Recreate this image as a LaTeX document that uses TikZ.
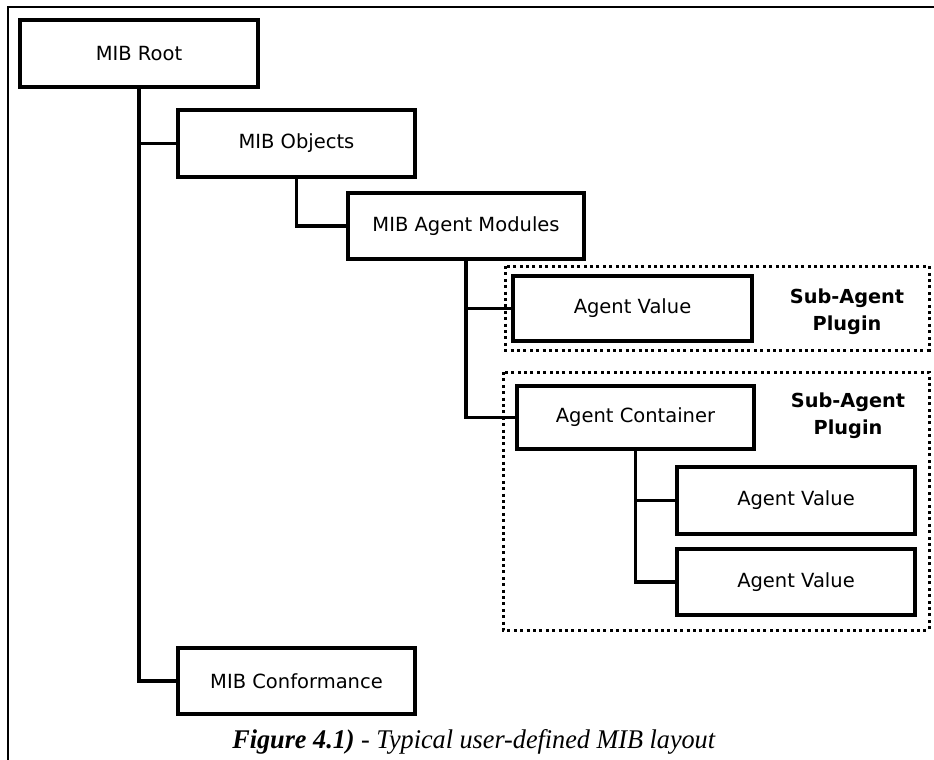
\documentclass[tikz,border=0pt]{standalone}
\usepackage{fontspec}
\setmainfont{DejaVu Sans}
\newfontfamily\capfont{Liberation Serif}
\begin{document}
\begin{tikzpicture}[x=1pt,y=-1pt,
  box/.style={draw=black,line width=3.5pt,fill=white,inner sep=0pt,
    font=\fontsize{19.5}{23}\selectfont},
  link/.style={draw=black,line width=3.5pt,line join=miter},
  plugin/.style={draw=black,line width=3pt,dash pattern=on 3pt off 3.4pt},
  pluginlabel/.style={font=\fontsize{19.3}{27}\selectfont\bfseries,align=center,inner sep=0pt},
  frame/.style={draw=black,line width=1.4pt}]
\useasboundingbox (0,0) rectangle (934,760);

% page frame (top and left edges)
\draw[frame] (934,7) -- (8,7) -- (8,760);

% sub-agent plugin regions
\draw[plugin] (505,266) rectangle (929,350);
\draw[plugin] (503,372) rectangle (929,630);
\node[pluginlabel] (lab1) at (847,312) {Sub-Agent\\Plugin};
\node[pluginlabel] (lab2) at (848,416) {Sub-Agent\\Plugin};

% MIB tree
\node[box,minimum width=238pt,minimum height=67pt] (root) at (139,53.5) {MIB Root};
\node[box,minimum width=237pt,minimum height=67pt] (objects) at (296.5,143.5) {MIB Objects};
\node[box,minimum width=236pt,minimum height=66pt] (modules) at (466,226) {MIB Agent Modules};
\node[box,minimum width=239pt,minimum height=65pt] (av1) at (632.5,308.5) {Agent Value};
\node[box,minimum width=237pt,minimum height=63pt] (container) at (635.5,417.5) {Agent Container};
\node[box,minimum width=238pt,minimum height=67pt] (av2) at (796,500.5) {Agent Value};
\node[box,minimum width=238pt,minimum height=66pt] (av3) at (796,582) {Agent Value};
\node[box,minimum width=237pt,minimum height=66pt] (conf) at (296.5,681) {MIB Conformance};

% connectors
\draw[link] (root.south) |- (objects.west);
\draw[link] (root.south) |- (conf.west);
\draw[link] (objects.south) |- (modules.west);
\draw[link] (modules.south) |- (av1.west);
\draw[link] (modules.south) |- (container.west);
\draw[link] (container.south) |- (av2.west);
\draw[link] (container.south) |- (av3.west);

% caption
\node[anchor=base,inner sep=0pt,xscale=0.97,font=\capfont\fontsize{27}{30}\selectfont] (caption) at (474,748)
  {\textbf{\textit{Figure 4.1)}}\textit{ - Typical user-defined MIB layout}};
\end{tikzpicture}
\end{document}
